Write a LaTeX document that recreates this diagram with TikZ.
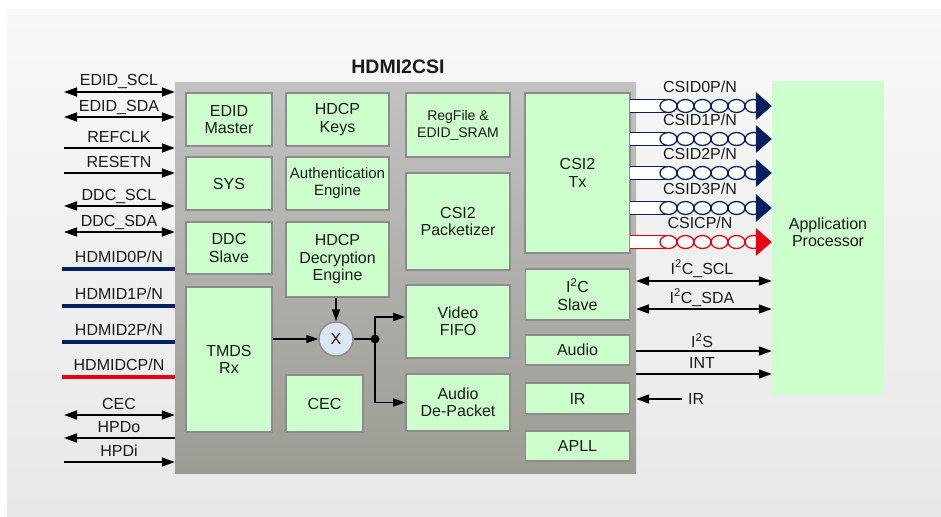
\documentclass[tikz,border=0pt]{standalone}
\usepackage{fontspec}
\setmainfont{Liberation Sans}
\usetikzlibrary{positioning, arrows.meta, calc}
\definecolor{BoxGreen}{HTML}{CCFFCC}
\definecolor{BoxEdge}{HTML}{8C8C8C}
\definecolor{ChipTop}{HTML}{C2C2C2}
\definecolor{ChipBot}{HTML}{9C9B93}
\definecolor{LaneBlue}{HTML}{002060}
\definecolor{LaneRed}{HTML}{E60012}
\definecolor{MixFill}{HTML}{DCE6F2}
\definecolor{PanelTop}{HTML}{F8F8F8}
\definecolor{PanelBot}{HTML}{E8E8E8}
\definecolor{TextDark}{HTML}{1A1A1A}

\begin{document}
\begin{tikzpicture}[x=1pt, y=-1pt,
  every node/.style={font=\fontsize{16}{17.5}\selectfont, text=TextDark},
  blk/.style={draw=BoxEdge, line width=1.6pt, fill=BoxGreen, align=center, inner sep=0pt},
  sig/.style={line width=1.6pt, black},
  sigboth/.style={sig, {Triangle[length=13pt,width=9pt]}-{Triangle[length=13pt,width=9pt]}},
  sigin/.style={sig, -{Triangle[length=13pt,width=9pt]}},
  sigout/.style={sig, {Triangle[length=13pt,width=9pt]}-},
  arr/.style={-{Triangle[length=12pt,width=8pt]}, line width=1.6pt, black}
]
  \useasboundingbox (0,0) rectangle (941,516);
  % Background panel
  \shade[top color=PanelTop, bottom color=PanelBot] (7,10) rectangle (941,516);

  % Chip body
  \node[top color=ChipTop, bottom color=ChipBot, minimum width=461pt,
    minimum height=391pt, inner sep=0pt] (chip) at (405.5,278) {};
  \node[font=\bfseries\fontsize{19.5}{21}\selectfont]
    at ([xshift=-7.5pt, yshift=16pt]chip.north) {HDMI2CSI};

  % Left column
  \node[blk, minimum width=86pt, minimum height=53pt] (edidm) at (229,119.5) {EDID\\Master};
  \node[blk, minimum width=86pt, minimum height=53pt] (sys) at (229,183.5) {SYS};
  \node[blk, minimum width=86pt, minimum height=52pt] (ddc) at (229,248) {DDC\\Slave};
  \node[blk, minimum width=86pt, minimum height=145pt] (tmds) at (229,359.5) {TMDS\\Rx};

  % HDCP column
  \node[blk, minimum width=103pt, minimum height=53pt] (keys) at (337.5,119.5) {HDCP\\Keys};
  \node[blk, minimum width=103pt, minimum height=53pt, font=\fontsize{15}{17}\selectfont]
    (auth) at (337.5,183.5) {Authentication\\Engine};
  \node[blk, minimum width=103pt, minimum height=75pt] (decr) at (337.5,259.5) {HDCP\\Decryption\\Engine};
  \node[blk, minimum width=77pt, minimum height=57pt] (cec) at (324.5,403.5) {CEC};

  % Packet column
  \node[blk, minimum width=104pt, minimum height=64pt, font=\fontsize{14}{17}\selectfont]
    (regf) at (458,125) {RegFile \&\\EDID\_SRAM};
  \node[blk, minimum width=104pt, minimum height=97pt] (pack) at (458,221.5) {CSI2\\Packetizer};
  \node[blk, minimum width=104pt, minimum height=73pt] (vfifo) at (458,321.5) {Video\\FIFO};
  \node[blk, minimum width=104pt, minimum height=57pt] (adp) at (458,402.5) {Audio\\De-Packet};

  % Output column
  \node[blk, minimum width=105pt, minimum height=160pt] (tx) at (577.5,173) {CSI2\\Tx};
  \node[blk, minimum width=104pt, minimum height=51pt] (i2c) at (577.5,294.5) {I\textsuperscript{2}C\\Slave};
  \node[blk, minimum width=104pt, minimum height=30pt] (audio) at (577.5,350) {Audio};
  \node[blk, minimum width=104pt, minimum height=31pt] (ir) at (577.5,398.5) {IR};
  \node[blk, minimum width=104pt, minimum height=30pt] (apll) at (577.5,446) {APLL};

  % Decryption mixer
  \node[circle, draw=BoxEdge, line width=1.4pt, fill=MixFill, minimum size=34pt,
    inner sep=0pt] (mix) at (336,339) {X};
  \coordinate (jn) at (375,339);
  \draw[arr] (tmds.east |- mix) -- (mix.west);
  \draw[arr] (decr.south -| mix) -- (mix.north);
  \draw[line width=1.6pt] (mix.east) -- (jn);
  \fill (jn) circle (4.5);
  \draw[arr] (jn) |- ([yshift=4.5pt]vfifo.west);
  \draw[arr] (jn) |- (adp.west);

  % Application processor
  \node[fill=BoxGreen, minimum width=112pt, minimum height=314pt, inner sep=0pt,
    align=center, text depth=12pt] (ap) at (828,238) {Application\\Processor};

  % CSI2 lanes
  \foreach \y/\n/\c in {106/D0/LaneBlue, 139/D1/LaneBlue, 173/D2/LaneBlue,
                        208/D3/LaneBlue, 242/C/LaneRed} {
    \coordinate (lane\n) at (630,\y);
    \fill[white] ($(lane\n)+(0,-6.5)$) rectangle (669,\y+6.5);
    \draw[\c, line width=1.3pt] ($(lane\n)+(0,-6.5)$) -- (669,\y-6.5)
      ($(lane\n)+(0,6.5)$) -- (669,\y+6.5);
    \foreach \k in {0,...,5}
      \draw[\c, line width=1.3pt, fill=white] (668.5+17*\k,\y) ellipse [x radius=8.5, y radius=6.5];
    \fill[\c] (lane\n -| ap.west) -- ++(-16,-14) -- ++(0,28) -- cycle;
    \node[anchor=base] at (700,\y-13.5) {CSI\n P/N};
  }

  % HDMI input lanes
  \foreach \y/\n/\c in {269/0/LaneBlue, 306/1/LaneBlue, 342/2/LaneBlue, 377/C/LaneRed} {
    \coordinate (h\n) at (62,\y);
    \draw[\c, line width=4pt] (h\n) -- (h\n -| chip.west);
    \node[anchor=base] at (119,\y-7) {HDMID\n P/N};
  }

  % Left control signals
  \foreach \y/\txt/\kind in {92/EDID\_SCL/sigboth, 117/EDID\_SDA/sigboth,
      148/REFCLK/sigin, 173/RESETN/sigin, 206/DDC\_SCL/sigboth, 232/DDC\_SDA/sigboth,
      415/CEC/sigboth, 438/HPDo/sigout, 462/HPDi/sigin} {
    \coordinate (s) at (64,\y);
    \draw[\kind] (s) -- (s -| chip.west);
    \node[anchor=base] at (119,\y-6) {\txt};
  }

  % Right side signals
  \foreach \y/\txt/\kind/\dy in {281/I\textsuperscript{2}C\_SCL/sigboth/7,
      309/I\textsuperscript{2}C\_SDA/sigboth/6, 351/I\textsuperscript{2}S/sigin/3.5,
      374/INT/sigin/6} {
    \coordinate (r) at (636,\y);
    \draw[\kind] (r) -- (r -| ap.west);
    \node[anchor=base] at (702,\y-\dy) {\txt};
  }
  \coordinate (irx) at (682,399);
  \draw[sigin] (irx) -- (irx -| chip.east);
  \node[anchor=west, inner sep=0pt] at ([xshift=6pt]irx) {IR};
\end{tikzpicture}
\end{document}
